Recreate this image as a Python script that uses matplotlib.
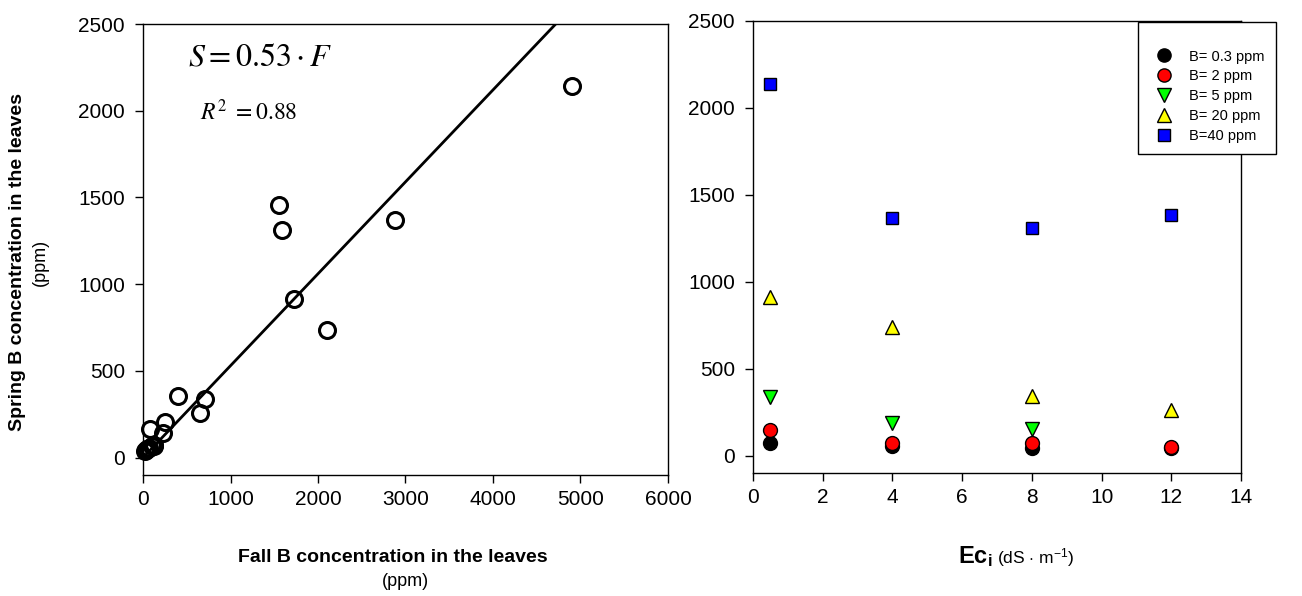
import numpy as np
import matplotlib
matplotlib.use("Agg")
import matplotlib.pyplot as plt

plt.rcParams['font.family'] = ['Liberation Sans', 'DejaVu Sans']
plt.rcParams['mathtext.fontset'] = 'custom'
plt.rcParams['mathtext.rm'] = 'Liberation Sans'
plt.rcParams['mathtext.bf'] = 'Liberation Sans:bold'
plt.rcParams['mathtext.it'] = 'Liberation Sans:italic'

# Left panel: fall vs spring B concentration (ppm)
fall_b = [20, 35, 50, 70, 100, 125, 80, 120, 225, 255, 395, 650, 710,
          1550, 1590, 1720, 2100, 2875, 4900]
spring_b = [40, 45, 48, 55, 65, 70, 165, 73, 140, 207, 355, 255, 338,
            1455, 1315, 913, 736, 1368, 2145]
slope = 0.53
r2 = 0.88

# Right panel: spring B vs irrigation water salinity
ec_levels = [0.5, 4, 8, 12]
b_03 = [70, 55, 45, 45]
b_2 = [148, 75, 70, 48]
b_5 = [340, 190, 155]
b_20 = [915, 741, 345, 264]
b_40 = [2140, 1368, 1310, 1385]

W, H = 1302, 596
fig = plt.figure(figsize=(W / 100, H / 100), dpi=100)

def box(x0, y0, x1, y1):
    return [x0 / W, 1 - y1 / H, (x1 - x0) / W, (y1 - y0) / H]

ax1 = fig.add_axes(box(143, 24, 668, 475))
ax2 = fig.add_axes(box(753, 21, 1241, 473))

for ax in (ax1, ax2):
    ax.tick_params(direction='out', length=6, width=1, labelsize=15)
    ax.tick_params(axis='y', pad=7)
    ax.tick_params(axis='x', pad=5)
    for s in ax.spines.values():
        s.set_linewidth(1)
    ax.set_ylim(-100, 2500)
    ax.set_yticks([0, 500, 1000, 1500, 2000, 2500])

# left panel
ax1.plot(fall_b, spring_b, 'o', mfc='none', mec='black', mew=2.2, ms=11.5, clip_on=False)
fx = np.array([0, 2500 / slope])
ax1.plot(fx, slope * fx, color='black', lw=2)
ax1.set_xlim(0, 6000)
ax1.set_xticks([0, 1000, 2000, 3000, 4000, 5000, 6000])
ax1.text(188 / W, 1 - 65 / H, r"$S = 0.53\cdot F$", transform=fig.transFigure,
         math_fontfamily='stix', fontsize=23, va='baseline', ha='left')
ax1.text(200 / W, 1 - 120 / H, r"$R^{2}\ = 0.88$", transform=fig.transFigure,
         math_fontfamily='stix', fontsize=17, va='baseline', ha='left')

fig.text(393 / W, 1 - 557 / H, "Fall B concentration in the leaves",
         fontsize=14, fontweight='bold', ha='center', va='center')
fig.text(405 / W, 1 - 582 / H, "(ppm)", fontsize=13, ha='center', va='center')
fig.text(18 / W, 1 - 262 / H, "Spring B concentration in the leaves",
         fontsize=14, fontweight='bold', ha='center', va='center', rotation=90)
fig.text(40 / W, 1 - 262 / H, "(ppm)", fontsize=13, ha='center', va='center', rotation=90)

# right panel
ms = 10
ax2.plot(ec_levels, b_03, 'o', color='black', mec='black', ms=ms, label='B= 0.3 ppm', ls='none')
ax2.plot(ec_levels, b_2, 'o', color='red', mec='black', ms=ms, label='B= 2 ppm', ls='none')
ax2.plot(ec_levels[:3], b_5, 'v', color='#00ff00', mec='black', ms=ms, label='B= 5 ppm', ls='none')
ax2.plot(ec_levels, b_20, '^', color='yellow', mec='black', ms=ms, label='B= 20 ppm', ls='none')
ax2.plot(ec_levels, b_40, 's', color='blue', mec='black', ms=9, label='B=40 ppm', ls='none')
ax2.set_xlim(0, 14)
ax2.set_xticks(range(0, 15, 2))

leg = ax2.legend(loc='upper right', bbox_to_anchor=(1276 / W, 1 - 22 / H),
                 bbox_transform=fig.transFigure, borderaxespad=0, fontsize=10.5,
                 frameon=True, fancybox=False, framealpha=1, edgecolor='black',
                 handlelength=2.0, handletextpad=0.7, labelspacing=0.4,
                 borderpad=0.8, markerscale=0.95, title=' ', title_fontsize=8)
leg.get_frame().set_linewidth(1)

fig.text(958 / W, 1 - 563 / H, r"$\mathbf{Ec_i}$", fontsize=17, ha='left', va='baseline')
fig.text(997 / W, 1 - 563 / H, r"(dS $\cdot$ m$^{-1}$)", fontsize=12.5, ha='left', va='baseline')

fig.savefig("out.png", dpi=100)
